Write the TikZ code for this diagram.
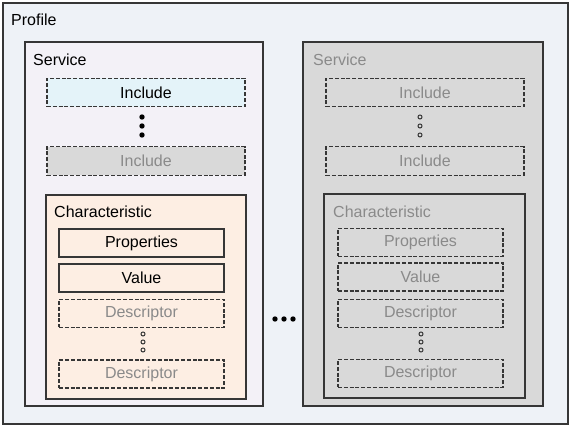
\documentclass[tikz,border=0pt]{standalone}
\usepackage{fontspec}
\setmainfont{Liberation Sans}
\usepackage{tikz}

\definecolor{profilebg}{HTML}{EEF2F7}
\definecolor{servicebg}{HTML}{F3F1F7}
\definecolor{includebg}{HTML}{E4F3F9}
\definecolor{charbg}{HTML}{FDEEE3}
\definecolor{greybg}{HTML}{D9D9D9}
\definecolor{greytext}{HTML}{8A8A8A}
\definecolor{edge}{HTML}{363636}

\begin{document}
\begin{tikzpicture}[x=1pt,y=-1pt,
  box/.style={draw=edge, line width=1.3pt, rectangle, inner sep=0pt},
  dashbox/.style={box, dash pattern=on 4pt off 1.8pt},
  item/.style={minimum width=165pt, minimum height=28pt},
  incl/.style={minimum width=198pt, minimum height=28.5pt},
  lbl/.style={anchor=west, inner sep=0pt},
  every node/.style={font=\fontsize{16}{18}\selectfont}]

\useasboundingbox (0,0) rectangle (571,427);

% Profile frame
\node[box, fill=profilebg, minimum width=565pt, minimum height=421pt] (profile) at (285.5,213.5) {};
\node[lbl] (profilelbl) at (11,20) {Profile};

% First service (active)
\node[box, fill=servicebg, minimum width=238pt, minimum height=364pt] (svcA) at (144,224) {};
\node[lbl] (svcAlbl) at (33,60) {Service};
\node[dashbox, incl, fill=includebg] (incA1) at (146,92.5) {Include};
\node[dashbox, incl, fill=greybg, text=greytext] (incA2) at (146,161) {Include};
\foreach \y in {117,126,135}
\fill[black] (142,\y) circle[radius=2.7pt];

% Characteristic of the first service
\node[box, fill=charbg, minimum width=200pt, minimum height=204pt] (chrA) at (146,297) {};
\node[lbl] (chrAlbl) at (54,212) {Characteristic};
\node[box, item] (propA) at (141.5,243) {Properties};
\node[box, item] (valA) at (141.5,278) {Value};
\node[dashbox, item, text=greytext] (desA1) at (141.5,313.5) {Descriptor};
\node[dashbox, item, text=greytext] (desA2) at (141.5,374) {Descriptor};
\foreach \y in {334,342,350}
\draw[edge, line width=1pt] (143,\y) circle[radius=2pt];

% More services
\foreach \x in {275,284,293}
\fill[black] (\x,319) circle[radius=2.7pt];

% Second service (inactive)
\node[box, fill=greybg, minimum width=240pt, minimum height=364pt] (svcB) at (423,224) {};
\node[lbl, text=greytext] (svcBlbl) at (313,60) {Service};
\node[dashbox, incl, text=greytext] (incB1) at (425,92.5) {Include};
\node[dashbox, incl, text=greytext] (incB2) at (425,161) {Include};
\foreach \y in {117,126,135}
\draw[edge, line width=1pt] (420,\y) circle[radius=2pt];

% Characteristic of the second service
\node[box, fill=greybg, minimum width=201pt, minimum height=204pt] (chrB) at (424.5,296) {};
\node[lbl, text=greytext] (chrBlbl) at (333,212) {Characteristic};
\node[dashbox, item, text=greytext] (propB) at (420.5,242.5) {Properties};
\node[dashbox, item, text=greytext] (valB) at (420.5,277) {Value};
\node[dashbox, item, text=greytext] (desB1) at (420.5,313.5) {Descriptor};
\node[dashbox, item, text=greytext] (desB2) at (420.5,373.5) {Descriptor};
\foreach \y in {334,342,350}
\draw[edge, line width=1pt] (421,\y) circle[radius=2pt];

\end{tikzpicture}
\end{document}
